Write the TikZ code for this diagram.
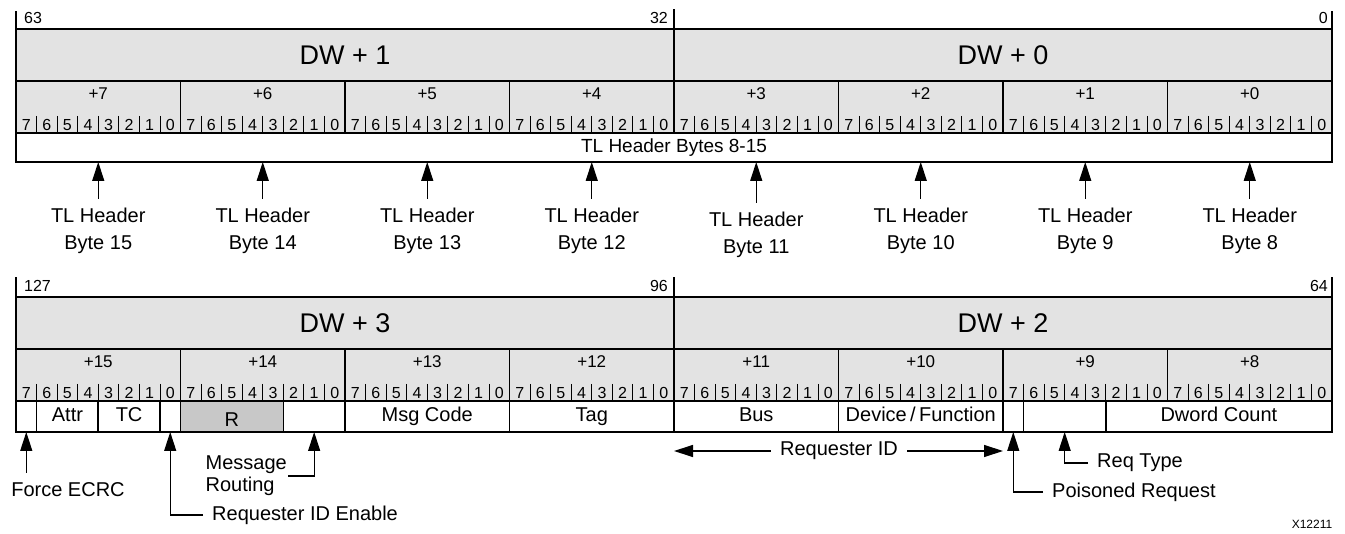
\documentclass[tikz,border=0pt]{standalone}
\usepackage{fontspec}
\setmainfont{Liberation Sans}
\usepackage{tikz}
\usetikzlibrary{arrows.meta,positioning,calc}
\definecolor{cellgray}{HTML}{E3E3E3}
\definecolor{rgray}{HTML}{C8C8C8}

\begin{document}
\begin{tikzpicture}[x=1pt, y=-1pt,
  cell/.style={draw, line width=1.6pt, fill=cellgray, inner sep=0pt, outer sep=0pt},
  dwlbl/.style={font=\fontsize{27}{30}\selectfont},
  bytelbl/.style={font=\fontsize{17}{20}\selectfont, inner sep=0pt},
  bitlbl/.style={font=\fontsize{16}{18}\selectfont, inner sep=0pt, anchor=base},
  bitnum/.style={font=\fontsize{16}{19}\selectfont, inner sep=4pt},
  field/.style={draw, line width=1.6pt, fill=white, inner sep=0pt, outer sep=0pt, minimum height=31pt, text height=14.5pt, text depth=4pt, font=\fontsize{20}{24}\selectfont},
  note/.style={font=\fontsize{20}{22}\selectfont, inner xsep=9pt, inner ysep=2pt},
  hdrnote/.style={font=\fontsize{20}{27}\selectfont, align=center, anchor=north, inner sep=2pt},
  ptr/.style={-{Triangle[length=19pt, width=12pt]}, line width=1.2pt},
  tick/.style={line width=1.6pt},
  sep/.style={line width=0.8pt}
]
\useasboundingbox (0,0) rectangle (1345,534);

% ---- DW + 1 / DW + 0 band ----
\node[cell, dwlbl, minimum width=658pt, minimum height=52pt] (dw1) at (345,55) {DW + 1};
\node[cell, dwlbl, minimum width=658pt, minimum height=52pt] (dw0) at (1003,55) {DW + 0};

\foreach \k [count=\i from 0] in {7,...,0} {
  \node[cell, minimum width=164.5pt, minimum height=52pt] (b\k) at ({98.25+\i*164.5},107) {};
  \node[bytelbl] (l\k) at ({98.25+\i*164.5},94) {+\k};
  \foreach \j [count=\m from 0] in {7,...,0}
    \node[bitlbl] (d\k\j) at ({16+\i*164.5+(\m+0.5)*20.5625},131) {\j};
  \foreach \m in {1,...,7}
    \draw[sep] ({16+\i*164.5+\m*20.5625},116) -- ++(0,17);
}

\node[field, minimum width=1316pt, minimum height=29pt, font=\fontsize{19}{22}\selectfont] (hdr) at (674,147.5) {TL Header Bytes 8-15};

\draw[tick] (dw1.north west) -- ++(0,-18);
\draw[tick] (dw1.north east) -- ++(0,-20);
\draw[tick] (dw0.north east) -- ++(0,-18);
\node[bitnum, anchor=west] (n63) at (20,18) {63};
\node[bitnum, anchor=east] (n32) at (672,18) {32};
\node[bitnum, anchor=east] (n0) at (1332,18) {0};

\foreach \k/\dy [count=\i from 0] in {15/0,14/0,13/0,12/0,11/4,10/0,9/0,8/0} {
  \node[hdrnote] (tl\k) at ({98.25+\i*164.5},{206+\dy}) {TL Header\\Byte \k};
  \draw[ptr] ([yshift=7pt]tl\k.north) -- (tl\k.north |- hdr.south);
}

% ---- DW + 3 / DW + 2 band ----
\node[cell, dwlbl, minimum width=658pt, minimum height=52pt] (dw3) at (345,323) {DW + 3};
\node[cell, dwlbl, minimum width=658pt, minimum height=52pt] (dw2) at (1003,323) {DW + 2};

\foreach \k [count=\i from 0] in {15,...,8} {
  \node[cell, minimum width=164.5pt, minimum height=52pt] (b\k) at ({98.25+\i*164.5},375) {};
  \node[bytelbl] (l\k) at ({98.25+\i*164.5},362) {+\k};
  \foreach \j [count=\m from 0] in {7,...,0}
    \node[bitlbl] (d\k\j) at ({16+\i*164.5+(\m+0.5)*20.5625},399) {\j};
  \foreach \m in {1,...,7}
    \draw[sep] ({16+\i*164.5+\m*20.5625},384) -- ++(0,17);
}

\foreach \s/\n/\t/\nm in {0/1/{}/fe, 1/3/Attr/attr, 4/3/TC/tc, 7/1/{}/rie, 13/3/{}/mr,
    16/8/Msg Code/msg, 24/8/Tag/tag, 32/8/Bus/bus, 40/8/{Device\,/\,Function}/dev,
    48/1/{}/pr, 49/4/{}/rt, 53/11/Dword Count/dwc}
  \node[field, minimum width={\n*20.5625pt}] (\nm) at ({16+(\s+\n/2)*20.5625},416.5) {\t};
\node[field, fill=rgray, minimum width={5*20.5625pt}] (rsv) at ({16+10.5*20.5625},416.5) {\raisebox{-5pt}{R}};

\draw[tick] (dw3.north west) -- ++(0,-20);
\draw[tick] (dw3.north east) -- ++(0,-20);
\draw[tick] (dw2.north east) -- ++(0,-20);
\node[bitnum, anchor=west] (n127) at (20,286) {127};
\node[bitnum, anchor=east] (n96) at (672,286) {96};
\node[bitnum, anchor=east] (n64) at (1332,286) {64};

% ---- pointers ----
\coordinate (fetail) at ([yshift=-41pt]fe.south);
\draw[ptr] (fetail) -- (fe.south);
\node[note] (fenote) at (68,490) {Force ECRC};

\node[note, anchor=west] (rienote) at (203,515) {Requester ID Enable};
\draw[ptr] (rienote.west) -| (rie.south);

\node[note, anchor=east, align=left, inner xsep=1pt] (mrnote) at (288,476) {Message\\Routing};
\draw[ptr] (mrnote.east) -| (mr.south);

\node[note] (ridnote) at (839,451) {Requester ID};
\draw[ptr] (ridnote.west) -- (ridnote.west -| bus.west);
\draw[ptr] (ridnote.east) -- (ridnote.east -| dev.east);

\node[note, anchor=west] (rtnote) at (1088,463) {Req Type};
\draw[ptr] (rtnote.west) -| (rt.south);

\node[note, anchor=west] (prnote) at (1043,492) {Poisoned Request};
\draw[ptr] (prnote.west) -| (pr.south);

\node[font=\fontsize{12}{14}\selectfont] (xref) at (1312,524) {X12211};

\end{tikzpicture}
\end{document}
